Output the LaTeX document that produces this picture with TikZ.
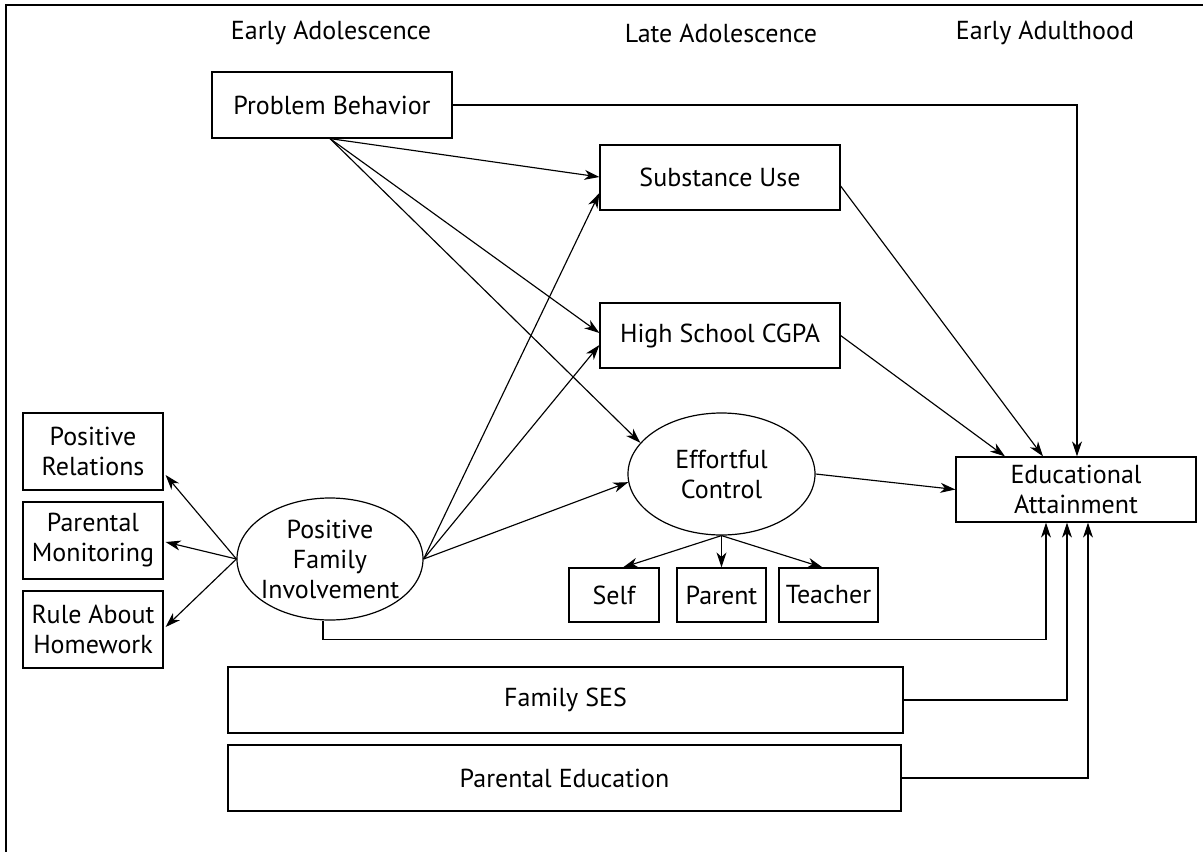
\documentclass[tikz,border=0pt]{standalone}
\usepackage{fontspec}
\setmainfont{PT Sans}
\usetikzlibrary{arrows.meta,shapes.geometric,calc}
\begin{document}
\begin{tikzpicture}[x=1pt,y=-1pt,
  txt/.style={font=\fontsize{26}{30}\selectfont, align=center, inner sep=0pt},
  box/.style={txt, draw, line width=1.2pt, rectangle, minimum width=#1},
  oval/.style={draw, line width=1.2pt, ellipse, inner sep=0pt},
  arr/.style={line width=1.15pt, -{Stealth[length=15pt,width=10pt,inset=4.5pt]}},
  ln/.style={line width=1.1pt}]
\useasboundingbox (0,0) rectangle (1203,852);
\draw[line width=1.3pt] (1203,5) -- (6,5) -- (6,852);

\node[txt] (h1) at (331,33) {Early Adolescence};
\node[txt] (h2) at (721,33) {Late Adolescence};
\node[txt] (h3) at (1045,33) {Early Adulthood};

\node[box=240pt, minimum height=66pt] (pb) at (332,105) {Problem Behavior};
\node[box=240pt, minimum height=65pt] (su) at (720,177.5) {Substance Use};
\node[box=240pt, minimum height=65pt] (cgpa) at (720,335.5) {High School CGPA};
\node[oval, minimum width=187pt, minimum height=122pt] (ec) at (721.5,474) {};
\node[txt] (ect) at (ec.center) {Effortful\\Control};
\node[box=90pt, minimum height=54pt] (self) at (614,595) {Self};
\node[box=89pt, minimum height=54pt] (parent) at (721.5,595) {Parent};
\node[box=99pt, minimum height=54pt] (teacher) at (828.5,595) {Teacher};
\node[box=240pt, minimum height=65pt] (ea) at (1076,489.5) {Educational\\Attainment};
\node[oval, minimum width=186pt, minimum height=122pt] (pfi) at (330,559) {};
\node[txt] (pfit) at (pfi.center) {Positive\\Family\\Involvement};
\node[box=140pt, minimum height=77pt] (pr) at (93,451.5) {Positive\\Relations};
\node[box=140pt, minimum height=77pt] (pm) at (93,540.5) {Parental\\Monitoring};
\node[box=140pt, minimum height=77pt] (rah) at (93,629.5) {Rule About\\Homework};
\node[box=675pt, minimum height=66pt] (ses) at (565.5,700) {Family SES};
\node[box=673pt, minimum height=66pt] (pe) at (564.5,778) {Parental Education};

% Problem behavior paths
\coordinate (pbs) at ($(pb.south)+(-2,0)$);
\draw[arr] (pbs) -- ($(su.west)+(0,-0.5)$);
\draw[arr] (pbs) -- ($(cgpa.west)+(0,-2.5)$);
\draw[arr] (pbs) -- (ec.159);
\draw[arr] (pb.east) -| ($(ea.north)+(1,0)$);

% Positive family involvement paths
\draw[arr] (pfi.east) -- ($(su.west)+(0,15.5)$);
\draw[arr] (pfi.east) -- ($(cgpa.west)+(0,9.5)$);
\draw[arr] (pfi.east) -- (ec.185.6);
\draw[arr] (pfi.west) -- ($(pr.east)+(2,23.5)$);
\draw[arr] (pfi.west) -- ($(pm.east)+(2,1.5)$);
\draw[arr] (pfi.west) -- ($(rah.east)+(2,-2.5)$);
\draw[arr] ($(pfi.south)+(-7,0)$) -- ++(0,19) -| ($(ea.south)+(-30,0)$);

% Effortful control paths
\draw[arr] (ec.south) -- ($(self.north)+(9,0)$);
\draw[arr] (ec.south) -- (parent.north);
\draw[arr] (ec.south) -- ($(teacher.north)+(-6,0)$);
\draw[arr] (ec.east) -- (ea.west);

% Late adolescence to attainment
\draw[arr] ($(su.east)+(0,8.5)$) -- ($(ea.north)+(-33,0)$);
\draw[arr] (cgpa.east) -- ($(ea.north)+(-71,0)$);

% SES and education
\draw[arr] (ses.east) -| ($(ea.south)+(-9,0)$);
\draw[arr] (pe.east) -| ($(ea.south)+(12,0)$);
\end{tikzpicture}
\end{document}
